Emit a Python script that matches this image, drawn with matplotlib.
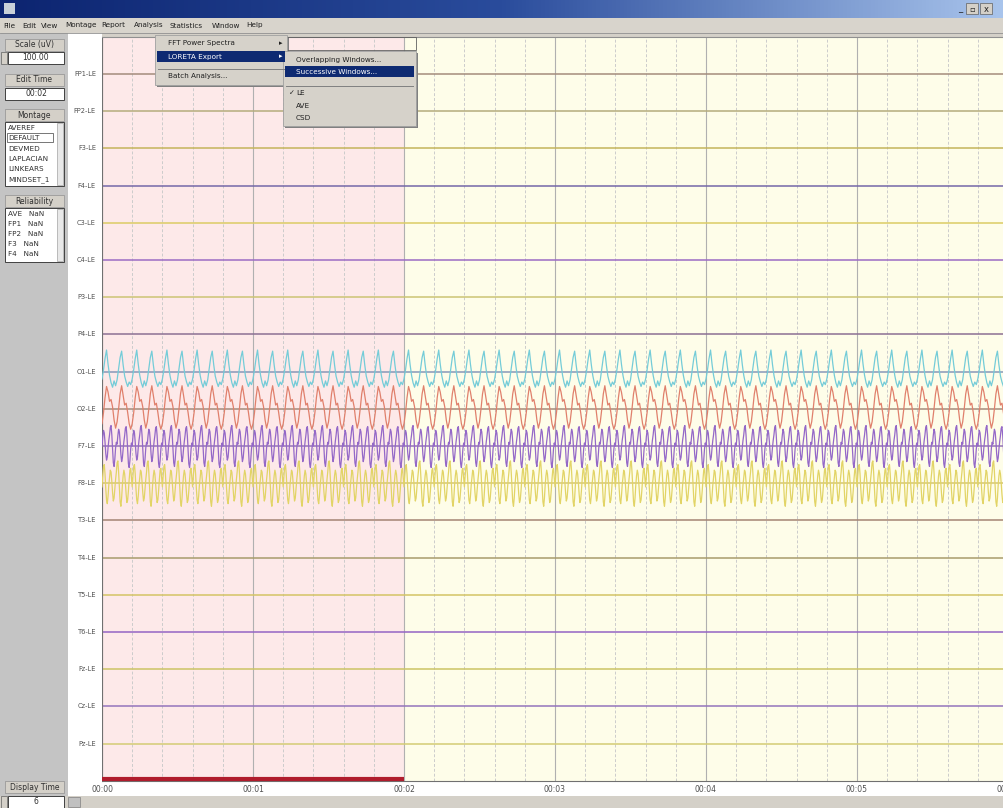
import numpy as np
import matplotlib.pyplot as plt
from matplotlib.patches import Rectangle
from matplotlib.colors import LinearSegmentedColormap

plt.rcParams["font.family"] = ["DejaVu Sans"]

W, H = 1004, 808

# montage rows, top to bottom
channels = ["FP1-LE", "FP2-LE", "F3-LE", "F4-LE", "C3-LE", "C4-LE", "P3-LE",
            "P4-LE", "O1-LE", "O2-LE", "F7-LE", "F8-LE", "T3-LE", "T4-LE",
            "T5-LE", "T6-LE", "Fz-LE", "Cz-LE", "Pz-LE"]
baseline_colors = ["#a48c7c", "#b4ac7c", "#c4b45c", "#7468a8", "#dccc64",
                   "#9c6cc4", "#ccc474", "#8c7094", "#8898b8", "#a48c7c",
                   "#9474b4", "#d4c474", "#a48474", "#a89c6c", "#d4c464",
                   "#9464c4", "#ccc464", "#9474bc", "#d4cc74"]

# one 0.2 s stretch of each active channel, in uV
o1_cycle = [-20, 5, 35, 58, 20, -10, -30, -42, -25, -38,
            -22, 8, 38, 55, 18, -12, -28, -40, -28, -35]
o2_cycle = [-40, -10, 30, 60, 45, 20, 25, 5, -30, -52,
            -35, 0, 40, 62, 35, 10, 15, -10, -40, -55]
f7_cycle = [0, 25, 42, 35, 10, -20, -38, -30, -5, 15,
            30, 50, 55, 30, -10, -45, -55, -35, -5, 10,
            5, 28, 45, 38, 12, -22, -42, -32, -8, 12,
            28, 48, 52, 28, -12, -48, -58, -38, -8, 8]
f8_cycle = [-10, 20, 45, 50, 25, -15, -45, -55, -35, -5,
            15, 35, 30, 5, -25, -48, -40, -15, 10, 30,
            55, 60, 30, -10, -50, -62, -40, -5, 20, 35,
            25, 0, -30, -52, -45, -20, 10, 35, 40, 15]
active = {"O1-LE": (o1_cycle, "#74ccd8"), "O2-LE": (o2_cycle, "#e0806c"),
          "F7-LE": (f7_cycle, "#9468c8"), "F8-LE": (f8_cycle, "#e2d466")}

seconds = 6
tick_labels = ["00:00", "00:01", "00:02", "00:03", "00:04", "00:05", "00:06"]
edit_time = 2
spacing = 100  # uV between rows (scale 100.00)

montages = ["AVEREF", "DEFAULT", "DEVMED", "LAPLACIAN", "LINKEARS", "MINDSET_1"]
reliability = ["AVE   NaN", "FP1   NaN", "FP2   NaN", "F3   NaN", "F4   NaN"]
menu_items = ["File", "Edit", "View", "Montage", "Report", "Analysis",
              "Statistics", "Window", "Help"]
menu_x = [3, 22, 41, 65, 101, 134, 170, 212, 246]

fig = plt.figure(figsize=(W / 100, H / 100), dpi=100)
fig.patch.set_facecolor("#d4d0c8")

# white strip under the traces, behind the time labels
fig.add_artist(Rectangle((68 / W, 1 - 796 / H), 936 / W, 15 / H, fc="#ffffff",
                         ec="none", transform=fig.transFigure, zorder=-1))

# ---- data area ----
x0, y_top, y_bot = 102, 36.8, 780.8
ax = fig.add_axes([x0 / W, 1 - y_bot / H, 906 / W, (y_bot - y_top) / H])
ax.set_xlim(0, seconds)
ax.set_ylim(-len(channels) * spacing, spacing)
ax.axvspan(0, edit_time, color="#fde9e9", lw=0, zorder=0)
ax.axvspan(edit_time, seconds, color="#fefde9", lw=0, zorder=0)

for k in range(seconds * 5 + 1):
    t = k * 0.2
    if k % 5 == 0:
        ax.axvline(t, color="#b0b0b0", lw=0.8, zorder=1)
    else:
        ax.axvline(t, color="#cccccc", lw=0.7, ls=(0, (3, 2)), zorder=1)

for i, (name, col) in enumerate(zip(channels, baseline_colors)):
    ax.axhline(-i * spacing, color=col, lw=1.1, zorder=2)
    if name in active:
        cyc, lc = active[name]
        vals = np.tile(cyc, seconds * 5)
        t = np.arange(len(vals)) * (0.2 / len(cyc))
        ax.plot(t, -i * spacing + vals, color=lc, lw=0.9, zorder=3)

ax.plot([0, edit_time], [-len(channels) * spacing + 4] * 2, color="#b01c2c",
        lw=3, solid_capstyle="butt", zorder=4, clip_on=False)

ax.set_xticks(range(seconds + 1))
ax.set_xticklabels(tick_labels, fontsize=5.5, color="#505050")
ax.tick_params(axis="x", length=0, pad=3)
ax.set_yticks([])
for s in ["left", "bottom"]:
    ax.spines[s].set_color("#707070")
ax.spines["top"].set_color("#909090")
ax.spines["right"].set_visible(False)

# ---- window chrome, panels and menus ----
ui = fig.add_axes([0, 0, 1, 1], zorder=5)
ui.axis("off")
ui.patch.set_alpha(0)

def box(x, y, w, h, fc, ec="none", lw=0.8, z=1):
    ui.add_patch(Rectangle((x, y), w, h, fc=fc, ec=ec, lw=lw, zorder=z))

def txt(x, y, s, size=5.5, color="#303030", ha="left", z=3, **kw):
    ui.text(x, y, s, fontsize=size, color=color, ha=ha, va="center", zorder=z, **kw)

# title bar gradient
grad = np.linspace(0, 1, 256)[None, :]
ui.imshow(grad, extent=[0, W, 18, 0], aspect="auto", zorder=1,
          cmap=LinearSegmentedColormap.from_list("tb", ["#0c2470", "#2a4c9c", "#a8c4ec"]))
ui.set_xlim(0, W)
ui.set_ylim(H, 0)
box(4, 3, 11, 11, "#c8d0d8", z=2)
txt(958, 9, "_", size=6, color="#202020")
box(966, 3, 12, 11, "#d4d0c8", ec="#606060", lw=0.5, z=2)
box(980, 3, 12, 11, "#d4d0c8", ec="#606060", lw=0.5, z=2)
txt(972, 9, "▫", size=6, color="#202020", ha="center")
txt(986, 9, "x", size=6, color="#202020", ha="center")

# menu bar
box(0, 18, W, 15, "#d8d4cc")
for mx, m in zip(menu_x, menu_items):
    txt(mx, 25.5, m, size=5.2, color="#202020")
ui.plot([0, W], [33, 33], color="#909090", lw=0.6, zorder=2)

# left panel and label column
box(0, 33, 68, 750, "#c4c4c4")
box(68, 33, 34, 749, "#ffffff")
for i, name in enumerate(channels):
    txt(96, 74 + 37.2 * i, name, size=4.8, color="#505050", ha="right")

def label_btn(y, s):
    box(5, y, 59, 12, "#d4d0c8", ec="#909090", lw=0.5, z=2)
    txt(34.5, y + 6, s, ha="center")

def field(y, s, spin=False):
    if spin:
        box(1, y, 6, 12, "#d4d0c8", ec="#606060", lw=0.5, z=2)
    box(8 if spin else 5, y, 56 if spin else 59, 12, "#ffffff", ec="#404040", lw=0.7, z=2)
    txt(36, y + 6, s, ha="center")

label_btn(39, "Scale (uV)")
field(52, "100.00", spin=True)
label_btn(74, "Edit Time")
field(88, "00:02")
label_btn(109, "Montage")
box(5, 122, 59, 64, "#ffffff", ec="#404040", lw=0.7, z=2)
for j, m in enumerate(montages):
    txt(8, 128 + 10.3 * j, m, size=5.2)
box(7, 133, 46, 9, "none", ec="#404040", lw=0.5, z=3)
box(57, 123, 6, 62, "#e8e8e8", ec="#909090", lw=0.4, z=2)
label_btn(195, "Reliability")
box(5, 208, 59, 54, "#ffffff", ec="#404040", lw=0.7, z=2)
for j, r in enumerate(reliability):
    txt(8, 214 + 10 * j, r, size=5.2)
box(57, 209, 6, 52, "#e8e8e8", ec="#909090", lw=0.4, z=2)

# bottom scroll strip
box(0, 796, W, 12, "#d4d0c8")
box(68, 797, 12, 10, "#c0c0c0", ec="#808080", lw=0.5, z=2)
box(0, 782, 68, 14, "#c4c4c4")
label_btn(781, "Display Time")
field(796, "6", spin=True)

# Analysis dropdown
box(157, 37, 132, 50, "#808080", z=6)
box(155, 35, 132, 50, "#d6d2ca", ec="#a0a0a0", lw=0.6, z=7)
txt(168, 43, "FFT Power Spectra", size=5.2, color="#202020", z=8)
txt(279, 43, "▸", size=5, color="#202020", z=8)
box(157, 51, 128, 11, "#0e2a72", z=8)
txt(168, 56.5, "LORETA Export", size=5.2, color="#ffffff", z=9)
txt(279, 56.5, "▸", size=5, color="#ffffff", z=9)
ui.plot([158, 284], [69, 69], color="#808080", lw=0.7, zorder=8)
txt(168, 76, "Batch Analysis...", size=5.2, color="#202020", z=8)

# LORETA Export submenu
box(284, 37, 132, 13, "none", ec="#606060", lw=0.6, z=6)
box(285, 53, 133, 75, "#808080", z=6)
box(283, 51, 133, 75, "#d6d2ca", ec="#a0a0a0", lw=0.6, z=7)
txt(296, 60, "Overlapping Windows...", size=5.2, color="#202020", z=8)
box(285, 66, 129, 11, "#0e2a72", z=8)
txt(296, 71.5, "Successive Windows...", size=5.2, color="#ffffff", z=8)
ui.plot([286, 413], [86, 86], color="#808080", lw=0.7, zorder=8)
txt(289, 93, "✓", size=5, color="#202020", z=8)
txt(296, 93, "LE", size=5.2, color="#202020", z=8)
txt(296, 106, "AVE", size=5.2, color="#202020", z=8)
txt(296, 118, "CSD", size=5.2, color="#202020", z=8)

fig.savefig("out.png", dpi=100)
